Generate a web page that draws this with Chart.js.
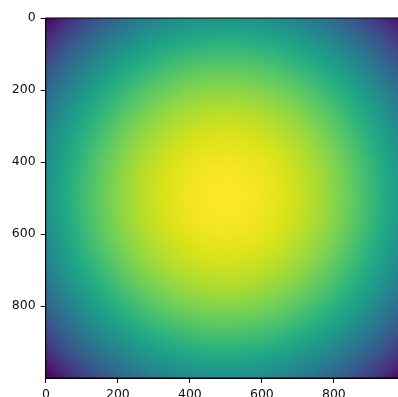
<!DOCTYPE html>
<html>
<head>
<meta charset="utf-8">
<script src="https://cdn.jsdelivr.net/npm/chart.js@4/dist/chart.umd.min.js"></script>
<style>
  html, body { margin: 0; padding: 0; background: #fff; overflow: hidden; }
  #wrap { width: 410px; height: 397px; }
</style>
</head>
<body>
<div id="wrap"><canvas id="c" width="410" height="397"></canvas></div>
<script>
// Image size (pixels) and tick labels
const imageSize = [1000, 1000];
const xTicks = [0, 200, 400, 600, 800];
const yTicks = [0, 200, 400, 600, 800];

// Centre of the bright spot (x, y)
const centre = [500, 495];

// Radial profile: distance from the centre -> normalised value
const radii  = [0, 50, 100, 150, 200, 250, 300, 350, 400, 450, 500, 550, 600, 650, 700, 710];
const levels = [1.0, 0.995, 0.98, 0.955, 0.92, 0.875, 0.82, 0.755, 0.68, 0.595, 0.50, 0.395, 0.28, 0.155, 0.02, 0.0];

// Cell size (image pixels) of the drawn grid
const cellSize = 5;

// viridis colour stops
const viridis = ['#440154','#48186a','#472d7b','#424086','#3b528b','#33638d','#2c728e','#26828e',
                 '#21918c','#1fa088','#28ae80','#3fbc73','#5ec962','#84d44b','#addc30','#d8e219','#fde725'];
const viridisRGB = viridis.map(h => [parseInt(h.slice(1,3),16), parseInt(h.slice(3,5),16), parseInt(h.slice(5,7),16)]);

function colourFor(v) {
  v = Math.max(0, Math.min(1, v));
  const p = v * (viridisRGB.length - 1);
  const i = Math.min(Math.floor(p), viridisRGB.length - 2);
  const f = p - i;
  const a = viridisRGB[i], b = viridisRGB[i + 1];
  return 'rgb(' + Math.round(a[0] + (b[0]-a[0])*f) + ',' + Math.round(a[1] + (b[1]-a[1])*f) + ',' + Math.round(a[2] + (b[2]-a[2])*f) + ')';
}

function profileAt(r) {
  if (r <= radii[0]) return levels[0];
  for (let k = 1; k < radii.length; k++) {
    if (r <= radii[k]) {
      const t = (r - radii[k-1]) / (radii[k] - radii[k-1]);
      return levels[k-1] + (levels[k] - levels[k-1]) * t;
    }
  }
  return levels[levels.length - 1];
}

// Grid cells: lower-left corner in image coordinates plus the value
const cells = [];
for (let gy = -0.5; gy < imageSize[1] - 0.5; gy += cellSize) {
  for (let gx = -0.5; gx < imageSize[0] - 0.5; gx += cellSize) {
    const cx = gx + cellSize / 2, cy = gy + cellSize / 2;
    const r = Math.hypot(cx - centre[0], cy - centre[1]);
    cells.push({ x: gx, y: gy, v: profileAt(r) });
  }
}

// Paints each cell as a rectangle placed by the chart's scales
const heatmapPlugin = {
  id: 'heatmap',
  beforeDatasetsDraw(chart) {
    const ctx = chart.ctx;
    const xs = chart.scales.x, ys = chart.scales.y;
    const area = chart.chartArea;
    ctx.save();
    ctx.beginPath();
    ctx.rect(area.left, area.top, area.right - area.left, area.bottom - area.top);
    ctx.clip();
    for (const c of chart.data.datasets[0].data) {
      const x0 = Math.round(xs.getPixelForValue(c.x));
      const x1 = Math.round(xs.getPixelForValue(c.x + cellSize));
      const y0 = Math.round(ys.getPixelForValue(c.y));
      const y1 = Math.round(ys.getPixelForValue(c.y + cellSize));
      ctx.fillStyle = colourFor(c.v);
      ctx.fillRect(Math.min(x0, x1), Math.min(y0, y1), Math.abs(x1 - x0), Math.abs(y1 - y0));
    }
    ctx.restore();
  },
  afterDraw(chart) {
    const ctx = chart.ctx, a = chart.chartArea;
    ctx.save();
    ctx.strokeStyle = '#000';
    ctx.lineWidth = 1;
    ctx.strokeRect(a.left, a.top, a.right - a.left, a.bottom - a.top);
    ctx.restore();
  }
};

const tickFont = { family: 'DejaVu Sans', size: 12.5 };

new Chart(document.getElementById('c'), {
  type: 'scatter',
  data: {
    datasets: [{ data: cells, pointRadius: 0, showLine: false }]
  },
  options: {
    responsive: false,
    animation: false,
    events: [],
    layout: { padding: { top: 18, right: 4.3, left: 0, bottom: 0 } },
    plugins: { legend: { display: false }, tooltip: { enabled: false } },
    scales: {
      x: {
        type: 'linear',
        min: -0.5, max: imageSize[0] - 0.5,
        afterBuildTicks: s => { s.ticks = xTicks.map(v => ({ value: v })); },
        afterFit: s => { s.height = 19; },
        ticks: { font: tickFont, color: '#111', padding: 4, maxRotation: 0, autoSkip: false },
        grid: { drawOnChartArea: false, drawTicks: true, tickLength: 5, color: '#000' },
        border: { display: true, color: '#000' }
      },
      y: {
        type: 'linear',
        reverse: true,
        min: -0.5, max: imageSize[1] - 0.5,
        afterBuildTicks: s => { s.ticks = yTicks.map(v => ({ value: v })); },
        afterFit: s => { s.width = 45.7; },
        ticks: { font: tickFont, color: '#111', padding: 5, autoSkip: false },
        grid: { drawOnChartArea: false, drawTicks: true, tickLength: 5, color: '#000' },
        border: { display: true, color: '#000' }
      }
    }
  },
  plugins: [heatmapPlugin]
});
</script>
</body>
</html>
